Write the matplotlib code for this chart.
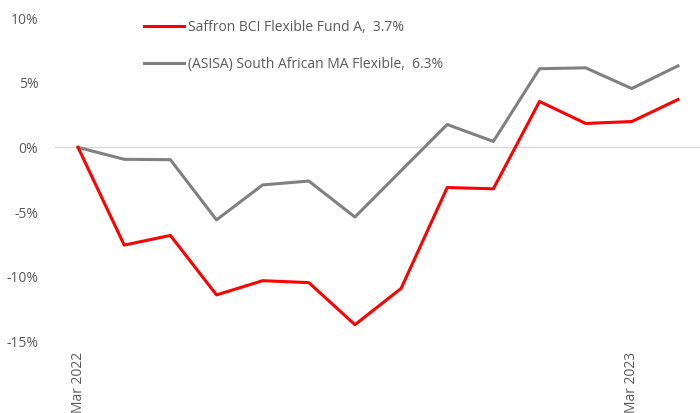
import matplotlib
matplotlib.use("Agg")
import matplotlib.pyplot as plt
from matplotlib.ticker import FuncFormatter

plt.rcParams['font.family'] = ['Open Sans', 'DejaVu Sans']

months = ["Mar 2022", "Apr 2022", "May 2022", "Jun 2022", "Jul 2022", "Aug 2022",
          "Sep 2022", "Oct 2022", "Nov 2022", "Dec 2022", "Jan 2023", "Feb 2023",
          "Mar 2023", "Apr 2023"]
saffron = [0.0, -7.55, -6.8, -11.4, -10.3, -10.45, -13.7, -10.9, -3.1, -3.2, 3.55, 1.85, 2.0, 3.7]
asisa = [0.0, -0.92, -0.95, -5.6, -2.9, -2.6, -5.38, -1.8, 1.77, 0.46, 6.08, 6.15, 4.55, 6.3]
label_saffron = "Saffron BCI Flexible Fund A,  3.7%"
label_asisa = "(ASISA) South African MA Flexible,  6.3%"
shown_ticks = [0, 12]
yticks = [-15, -10, -5, 0, 5, 10]

W, H = 700, 413
fig = plt.figure(figsize=(W / 100, H / 100), dpi=100)
ax = fig.add_axes([55 / W, (H - 341.5) / H, 646 / W, (341.5 - 18) / H])

x = list(range(len(months)))
ax.axhline(0, color="#D9D9D9", lw=1.0, zorder=1)
l1, = ax.plot(x, saffron, color="#FF0000", lw=2.2, label=label_saffron, zorder=3)
l2, = ax.plot(x, asisa, color="#808080", lw=2.2, label=label_asisa, zorder=2)

ax.set_xlim(-0.5, len(months) - 0.5)
ax.set_ylim(-15, 10)
ax.set_yticks(yticks)
ax.yaxis.set_major_formatter(FuncFormatter(lambda v, p: f"{v:.0f}%"))
ax.set_xticks([x[i] for i in shown_ticks])
ax.set_xticklabels([months[i] for i in shown_ticks], rotation=90, va="top", ha="center")

for s in ax.spines.values():
    s.set_visible(False)
ax.tick_params(axis="both", length=0, colors="#595959", labelsize=10)
ax.tick_params(axis="y", pad=12)
ax.tick_params(axis="x", pad=7.5)

leg = ax.legend(handles=[l1, l2], loc="upper left",
                bbox_to_anchor=(138 / W, (H - 14) / H), bbox_transform=fig.transFigure,
                frameon=False, handlelength=2.9, handletextpad=0.3, labelspacing=1.62,
                fontsize=10, borderaxespad=0)
for t in leg.get_texts():
    t.set_color("#595959")

fig.savefig("out.png", dpi=100)
